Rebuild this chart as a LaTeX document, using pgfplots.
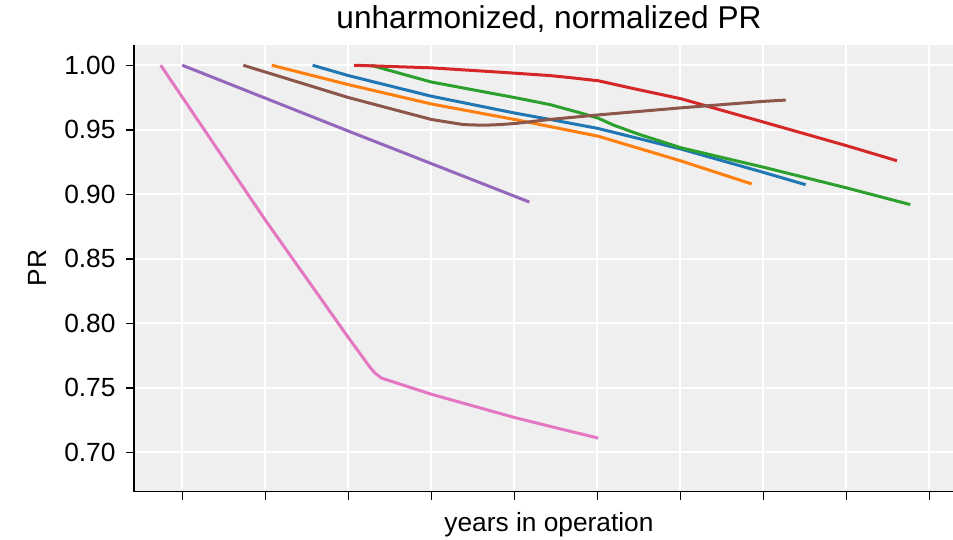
\documentclass[border=0pt]{standalone}
\usepackage{pgfplots}
\pgfplotsset{compat=1.18}
\usepackage{fontspec}
\setmainfont{Liberation Sans}
\definecolor{bg}{RGB}{239,239,239}
\definecolor{cblue}{HTML}{1F77B4}
\definecolor{corange}{HTML}{FF7F0E}
\definecolor{cgreen}{HTML}{2CA02C}
\definecolor{cred}{HTML}{D62728}
\definecolor{cpurple}{HTML}{9467BD}
\definecolor{cbrown}{HTML}{8C564B}
\definecolor{cpink}{HTML}{E377C2}
\begin{document}
\begin{tikzpicture}
\begin{axis}[
  scale only axis, width=830bp, height=446.5bp,
  xmin=-0.582, xmax=9.418, ymin=0.6696, ymax=1.0157,
  axis x line*=bottom, axis y line*=left,
  axis line style={-, black, line width=1.5bp},
  axis background/.style={fill=bg},
  grid=major, major grid style={white, line width=2bp},
  xtick={0,1,2,3,4,5,6,7,8,9}, xticklabels={},
  ytick={0.70,0.75,0.80,0.85,0.90,0.95,1.00},
  yticklabel style={xshift=-7bp, /pgf/number format/.cd, fixed, fixed zerofill, precision=2, assume math mode=true},
  tick align=outside, major tick length=8bp, tick style={black, line width=1.5bp},
  ticklabel style={font=\fontsize{26.3bp}{30bp}\selectfont},
  every axis title shift=0pt,
  title={unharmonized, normalized PR},
  title style={at={(axis description cs:0.5,1)}, anchor=base, yshift=16bp, font=\fontsize{31.6bp}{36bp}\selectfont},
  xlabel={years in operation},
  xlabel style={at={(axis description cs:0.5,0)}, anchor=base, yshift=-40bp, font=\fontsize{26.3bp}{30bp}\selectfont},
  ylabel={PR},
  ylabel style={at={(axis description cs:-0.1169,0.5)}, anchor=center, font=\fontsize{26.3bp}{30bp}\selectfont},
  every axis plot/.append style={line width=3bp, line join=round, line cap=butt},
]
\addplot[cblue] coordinates {(1.57,1.0) (2.0,0.992) (3.0,0.976) (4.0,0.963) (4.43,0.958) (5.01,0.951) (6.01,0.935) (7.0,0.917) (7.51,0.9074)};
\addplot[corange] coordinates {(1.077,1.0) (2.0,0.985) (3.0,0.970) (4.0,0.958) (5.01,0.945) (6.0,0.926) (6.86,0.908)};
\addplot[cgreen] coordinates {(2.27,1.0) (3.0,0.987) (4.0,0.975) (4.43,0.9695) (4.8,0.963) (5.01,0.959) (5.2,0.9535) (5.5,0.9465) (6.01,0.936) (7.0,0.921) (8.0,0.905) (8.77,0.892)};
\addplot[cred] coordinates {(2.07,1.0) (3.0,0.998) (3.83,0.9946) (4.43,0.992) (4.63,0.9907) (5.01,0.988) (5.43,0.982) (6.01,0.974) (7.0,0.956) (8.0,0.9377) (8.61,0.926)};
\addplot[cpurple] coordinates {(0,1.0) (2.0,0.949) (4.18,0.894)};
\addplot[cbrown] coordinates {(0.735,1.0) (2.0,0.975) (3.0,0.958) (3.386,0.954) (3.63,0.9535) (3.83,0.954) (4.03,0.955) (4.43,0.958) (5.01,0.9615) (6.01,0.967) (7.0,0.972) (7.27,0.973)};
\addplot[cpink] coordinates {(-0.26,1.0) (1.0,0.880) (2.0,0.789) (2.26,0.766) (2.32,0.7615) (2.40,0.7575) (3.0,0.745) (3.5,0.736) (4.0,0.727) (4.5,0.719) (5.01,0.711)};
\end{axis}
\pgfresetboundingbox
\path (-134bp,-48.5bp) rectangle (819bp,491.5bp);
\end{tikzpicture}
\end{document}
